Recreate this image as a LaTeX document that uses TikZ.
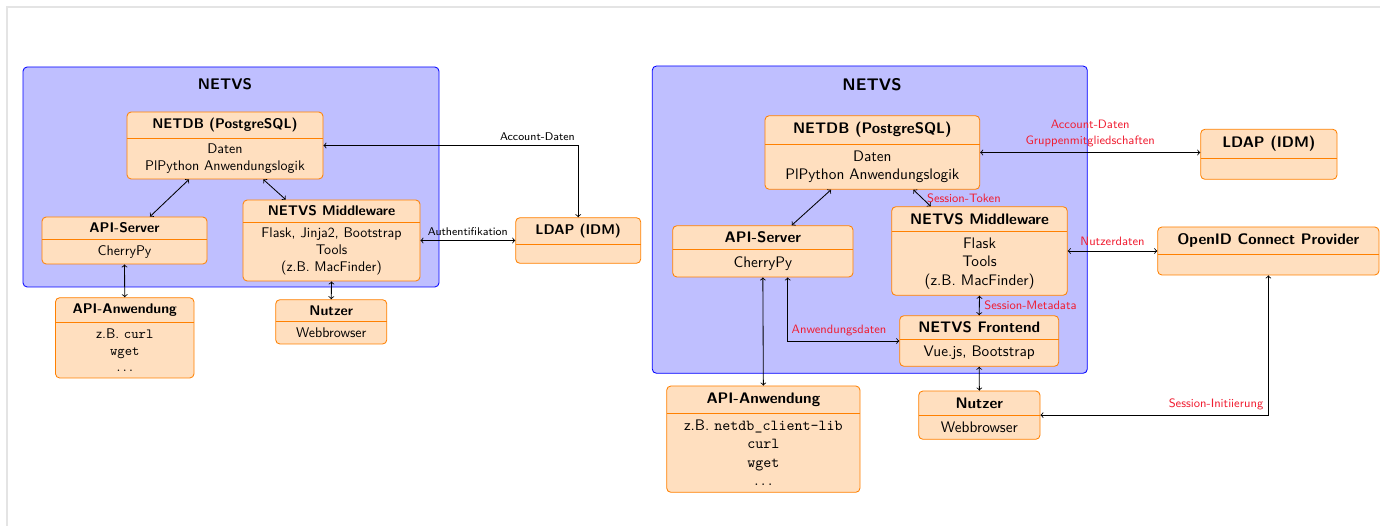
\documentclass[tikz,border=0pt]{standalone}
\usetikzlibrary{fit,calc}
\renewcommand\familydefault{\sfdefault}
\definecolor{boxfill}{RGB}{255,223,191}
\definecolor{boxline}{RGB}{255,128,0}
\definecolor{contfill}{RGB}{191,191,255}
\definecolor{lblred}{RGB}{240,30,50}
\definecolor{framegray}{RGB}{228,228,228}
\tikzset{
  boxshape/.style={draw=boxline, fill=boxfill, rounded corners=3pt, inner sep=0pt, line width=0.6pt},
  sepline/.style={draw=boxline, line width=0.6pt},
  container/.style={draw=blue, fill=contfill, rounded corners=3pt, inner sep=0pt, line width=0.6pt},
  ltitle/.style={font=\fontsize{10}{12}\selectfont\bfseries, inner sep=0pt},
  lbody/.style={font=\fontsize{10}{12}\selectfont, align=center, inner sep=0pt},
  rtitle/.style={font=\fontsize{10.9}{13.1}\selectfont\bfseries, inner sep=0pt},
  rbody/.style={font=\fontsize{10.9}{13.1}\selectfont, align=center, inner sep=0pt},
  lcont/.style={font=\fontsize{11}{13}\selectfont\bfseries},
  rcont/.style={font=\fontsize{12}{14}\selectfont\bfseries},
  conn/.style={<->, line width=0.6pt},
  llabel/.style={font=\fontsize{8}{9.5}\selectfont, text=black},
  rlabel/.style={font=\fontsize{8.7}{10.4}\selectfont, text=lblred},
}
\newcommand\umlbox[9]{%
  \node[boxshape, fit={(#2,#3) (#4,#5)}] (#1) {};
  \draw[sepline] (#2,#6) -- (#4,#6);
  \node[#9title] (#1-t) at ({(#2+#4)/2},{(#3+#6)/2}) {#7};
  \node[#9body] (#1-b) at ({(#2+#4)/2},{(#6+#5)/2}) {#8};
}
\begin{document}
\begin{tikzpicture}[x=0.714pt, y=-0.714pt]
\useasboundingbox (0,0) rectangle (1380,526);
\draw[framegray, line width=1.4pt] (7,526) -- (7,7) -- (1380,7);

% ---------------- left diagram ----------------
\node[container, fit={(23,67) (439,287)}] (lnetvs) {};
\node[lcont] (lnetvs-t) at (225,84) {NETVS};
\umlbox{lnetdb}{127}{112}{323}{179}{138}{NETDB (PostgreSQL)}{Daten\\PlPython Anwendungslogik}{l}
\umlbox{lapi}{42}{217}{207}{264}{239}{API-Server}{CherryPy}{l}
\umlbox{lmw}{243}{200}{420}{281}{222}{NETVS Middleware}{Flask, Jinja2, Bootstrap\\Tools\\(z.B. MacFinder)}{l}
\umlbox{lapp}{55.5}{297.7}{194}{378}{322.3}{API-Anwendung}{z.B. \texttt{curl}\\\texttt{wget}\\$\ldots$}{l}
\umlbox{lnutzer}{275.7}{299.7}{386.8}{344}{321.7}{Nutzer}{Webbrowser}{l}
\umlbox{lldap}{515.7}{217.7}{640.7}{263.3}{244.3}{LDAP (IDM)}{}{l}

\draw[conn] ($(lnetdb.south)+(-36,0)$) -- ($(lapi.north)+(25.5,0)$);
\draw[conn] ($(lnetdb.south)+(38.3,0)$) -- ($(lmw.north)+(-45.8,0)$);
\draw[conn] (lapi.south) -- (lapp.north);
\draw[conn] (lmw.south) -- (lnutzer.north);
\draw[conn] (lnetdb.east) -| (lldap.north) node[llabel, pos=0.42, above] (lacc) {Account-Daten};
\draw[conn] (lmw.east) -- (lldap.west) node[llabel, midway, above] (lauth) {Authentifikation};

% ---------------- right diagram ----------------
\node[container, fit={(652.3,66) (1087.3,373.3)}] (rnetvs) {};
\node[rcont] (rnetvs-t) at (872,84.3) {NETVS};
\umlbox{rnetdb}{765}{115.7}{979.7}{189.3}{144.3}{NETDB (PostgreSQL)}{Daten\\PlPython Anwendungslogik}{r}
\umlbox{rapi}{672.7}{225.7}{853}{277}{249.7}{API-Server}{CherryPy}{r}
\umlbox{rmw}{891.7}{206.7}{1067.3}{295.3}{231.3}{NETVS Middleware}{Flask\\Tools\\(z.B. MacFinder)}{r}
\umlbox{rfront}{899.7}{315.7}{1058.7}{366.3}{339.3}{NETVS Frontend}{Vue.js, Bootstrap}{r}
\umlbox{rapp}{666.7}{386}{860}{492.3}{413.3}{API-Anwendung}{z.B. \texttt{netdb\_client-lib}\\\texttt{curl}\\\texttt{wget}\\$\ldots$}{r}
\umlbox{rnutzer}{918.7}{391}{1040}{439.3}{415}{Nutzer}{Webbrowser}{r}
\umlbox{rldap}{1200.7}{129.3}{1337}{179.3}{158.3}{LDAP (IDM)}{}{r}
\umlbox{roidc}{1157.7}{227}{1379}{275}{254.3}{OpenID Connect Provider}{}{r}

\draw[conn] ($(rnetdb.south)+(-41.3,0)$) -- ($(rapi.north)+(28.9,0)$);
\draw[conn] ($(rnetdb.south)+(41,0)$) -- ($(rmw.north)+(-48.8,0)$) node[rlabel, midway, right] (rtok) {Session-Token};
\draw[conn] (rmw.south) -- (rfront.north) node[rlabel, midway, right] (rmeta) {Session-Metadata};
\draw[conn] ($(rapi.south)+(24.85,0)$) |- (rfront.west) node[rlabel, pos=0.73, above] (rappd) {Anwendungsdaten};
\draw[conn] (rapi.south) -- (rapp.north);
\draw[conn] (rfront.south) -- (rnutzer.north);
\draw[conn] (rnetdb.east) -- (rnetdb.east -| rldap.west)
  node[rlabel, midway, above] (rgrp) {Gruppenmitgliedschaften}
  node[rlabel, midway, above, yshift=13.5pt] (racc) {Account-Daten};
\draw[conn] (rmw.east) -- (roidc.west) node[rlabel, midway, above] (rnd) {Nutzerdaten};
\draw[conn] (rnutzer.east) -| (roidc.south) node[rlabel, pos=0.5, anchor=south east] (rsi) {Session-Initiierung};
\end{tikzpicture}
\end{document}
